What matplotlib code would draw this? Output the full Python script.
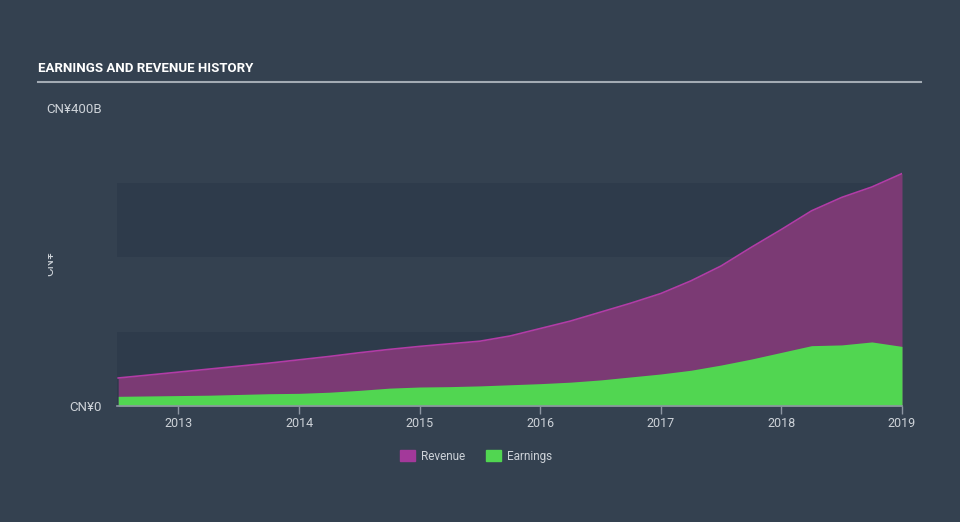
import matplotlib
matplotlib.use('Agg')
import matplotlib.pyplot as plt
from matplotlib.patches import Patch, Rectangle
from matplotlib.lines import Line2D

# Quarterly data (decimal years), values in CN¥ billions
years = [2012.5, 2012.75, 2013.0, 2013.25, 2013.5, 2013.75, 2014.0, 2014.25,
         2014.5, 2014.75, 2015.0, 2015.25, 2015.5, 2015.75, 2016.0, 2016.25,
         2016.5, 2016.75, 2017.0, 2017.25, 2017.5, 2017.75, 2018.0, 2018.25,
         2018.5, 2018.75, 2019.0]
revenue = [37.6, 41.5, 45.5, 49.5, 53.5, 57.5, 62, 66.5, 71.5, 76, 80, 83.5,
           87, 94, 104, 114, 126, 138, 151, 168, 188, 213, 237, 262, 280, 294, 312]
earnings = [13, 13.5, 14, 14.5, 15.5, 16.5, 17, 18.5, 21, 24, 25.5, 26, 27,
            28.5, 30, 32, 35, 39, 43, 48, 55, 63, 72, 81, 82, 86, 80]

year_ticks = [2013, 2014, 2015, 2016, 2017, 2018, 2019]
y_ticks = [0, 400]
y_ticklabels = ['CN¥0', 'CN¥400B']

bg = '#344150'
band = '#2e3b4b'
text_col = '#cdd2d8'
rev_fill = '#7b3a74'
rev_line = '#b23ca6'
earn_col = '#51d651'
fam = ['Roboto', 'DejaVu Sans']

W, H = 960, 522
fig = plt.figure(figsize=(9.6, 5.22), dpi=100, facecolor=bg)
ax = fig.add_axes([117 / W, 1 - 406 / H, (902 - 117) / W, (406 - 108) / H])
ax.set_facecolor(bg)
ax.set_xlim(2012.49, 2019.0)
ax.set_ylim(0, 400)

# alternating horizontal bands
for lo in [0, 200]:
    ax.axhspan(lo, lo + 100, color=band, lw=0, zorder=0)

ax.fill_between(years, 0, revenue, color=rev_fill, lw=0, zorder=1)
ax.plot(years, revenue, color=rev_line, lw=1.2, zorder=2)
ax.fill_between(years, 0, earnings, color=earn_col, lw=0, zorder=3)

for s in ['top', 'right', 'left']:
    ax.spines[s].set_visible(False)
ax.spines['bottom'].set_color('#8d96a2')
ax.spines['bottom'].set_linewidth(1.2)
ax.spines['bottom'].set_zorder(5)

ax.set_xticks(year_ticks)
ax.set_xticklabels([str(y) for y in year_ticks])
ax.tick_params(axis='x', colors='#8d96a2', length=6, width=1, labelcolor=text_col,
               labelsize=9, pad=2)
ax.set_yticks(y_ticks)
ax.set_yticklabels(y_ticklabels)
ax.tick_params(axis='y', length=0, labelcolor=text_col, labelsize=9.5, pad=11)
for lab in ax.get_xticklabels() + ax.get_yticklabels():
    lab.set_family(fam)

yl = fig.text(50 / W, 1 - 263 / H, 'CN¥', rotation=90, ha='center', va='center',
              color=text_col, fontsize=9.5, family=fam)
yl.set_clip_path(Rectangle((48, 0), W, H, transform=None))

# title and rule
fig.text(38 / W, 1 - 68 / H, 'EARNINGS AND REVENUE HISTORY', ha='left', va='center',
         color='white', fontsize=9.5, fontweight='bold', fontstretch='condensed',
         family=fam)
fig.add_artist(Line2D([38 / W, 921 / W], [1 - 82 / H, 1 - 82 / H],
                      color='#a3abb4', lw=1.5))

handles = [Patch(color='#a3399a', label='Revenue'),
           Patch(color=earn_col, label='Earnings')]
leg = fig.legend(handles=handles, loc='center', bbox_to_anchor=(476 / W, 1 - 456 / H),
                 ncol=2, frameon=False, fontsize=8.5, handlelength=1.3,
                 handleheight=1.1, columnspacing=1.8, handletextpad=0.5)
for t in leg.get_texts():
    t.set_color(text_col)
    t.set_family(fam)

fig.savefig('out.png', dpi=100, facecolor=bg)
